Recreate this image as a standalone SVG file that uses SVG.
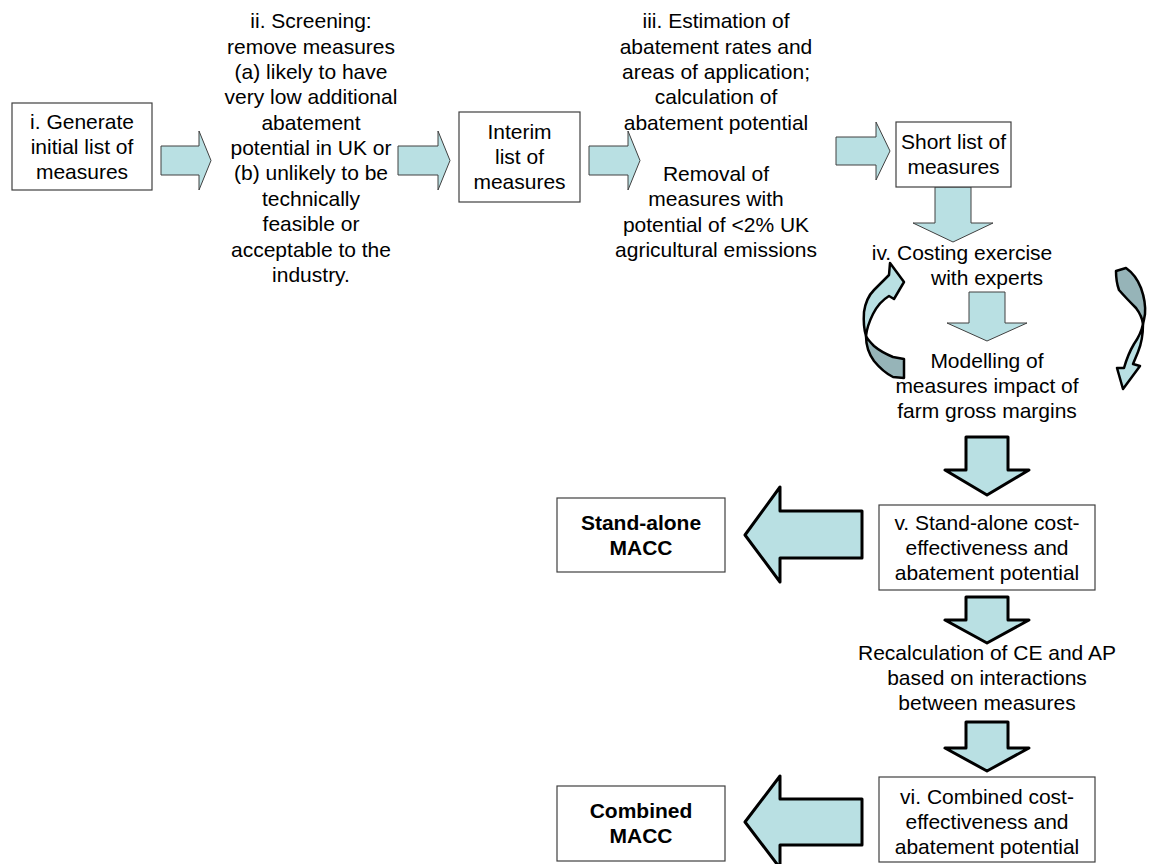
<svg xmlns="http://www.w3.org/2000/svg" width="1153" height="864" viewBox="0 0 1153 864">
<style>
text{font-family:"Liberation Sans",Arial,sans-serif;font-size:21px;fill:#000;text-anchor:middle}
.b{font-weight:bold}
.box{fill:#fff;stroke:#404040;stroke-width:1.2}
.arr{fill:#B9E0E3;stroke:#404040;stroke-width:1}
.tarr{fill:#B9E0E3;stroke:#000;stroke-width:3;stroke-linejoin:round}
.cl{fill:#B9E0E3;stroke:#000;stroke-width:2.5;stroke-linejoin:round}
.cd{fill:#96B4B8;stroke:#000;stroke-width:2.5;stroke-linejoin:round}
</style>
<g id="connectors">
<polygon class="arr" points="161,146 199,146 199,131 211,160.5 199,190 199,175 161,175"/>
<polygon class="arr" points="398,146 438,146 438,131 450,160.5 438,190 438,175 398,175"/>
<polygon class="arr" points="589,146 628,146 628,131 640,160.5 628,190 628,175 589,175"/>
<polygon class="arr" points="836,137 876,137 876,122 890,151 876,180 876,165 836,165"/>
<polygon class="arr" points="935,187 971,187 971,223 993,223 953,242 913,223 935,223"/>
<polygon class="arr" points="969,292 1005,292 1005,323 1027,323 987,341 947,323 969,323"/>
<polygon class="tarr" points="966,437 1008,437 1008,470 1029,470 987,495 945,470 966,470"/>
<polygon class="tarr" points="966,597 1008,597 1008,620 1029,620 987,643 945,620 966,620"/>
<polygon class="tarr" points="966,722 1008,722 1008,748 1029,748 987,771 945,748 966,748"/>
<polygon class="tarr" points="745,535 780,487 780,511 862,511 862,558 780,558 780,582"/>
<polygon class="tarr" points="745,822 780,776 780,799 862,799 862,845 780,845 780,868"/>
<g id="loop-left">
<path class="cd" d="M866,336 Q866,350 874,361 Q883,372 893,377 L904,378 L904,359 L893,357 Q881,352 874,346 Q868,340 866,336 Z"/>
<path class="cl" d="M890,263 L904,282 L894,299 L889,296 Q879,302 873,314 Q867,326 866,336 Q863,326 864,312 Q866,298 874,290 L889,275 Z"/>
</g>
<g id="loop-right">
<path class="cd" d="M1116,271 L1126,268 Q1136,275 1141,288 Q1146,302 1145,314 Q1144,320 1143,324 Q1142,316 1136,308 Q1126,298 1119,290 Q1116,282 1116,271 Z"/>
<path class="cl" d="M1143,324 Q1143,340 1138,352 L1133,364 L1140,366 L1123,389 L1117,368 L1124,368 Q1128,354 1134,344 Q1141,334 1143,324 Z"/>
</g>
</g>
<g id="node-i">
<rect class="box" x="12" y="103" width="140" height="87"/>
<text x="82" y="129">i. Generate</text>
<text x="82" y="154">initial list of</text>
<text x="82" y="179">measures</text>
</g>
<g id="node-ii">
<text x="311" y="28">ii. Screening:</text>
<text x="311" y="54">remove measures</text>
<text x="311" y="79">(a) likely to have</text>
<text x="311" y="104">very low additional</text>
<text x="311" y="130">abatement</text>
<text x="311" y="155">potential in UK or</text>
<text x="311" y="180">(b) unlikely to be</text>
<text x="311" y="206">technically</text>
<text x="311" y="231">feasible or</text>
<text x="311" y="257">acceptable to the</text>
<text x="311" y="282">industry.</text>
</g>
<g id="node-interim">
<rect class="box" x="459" y="112" width="121" height="90"/>
<text x="519.5" y="139">Interim</text>
<text x="519.5" y="164">list of</text>
<text x="519.5" y="189">measures</text>
</g>
<g id="node-iii">
<text x="716" y="28">iii. Estimation of</text>
<text x="716" y="54">abatement rates and</text>
<text x="716" y="79">areas of application;</text>
<text x="716" y="104">calculation of</text>
<text x="716" y="130">abatement potential</text>
<text x="716" y="181">Removal of</text>
<text x="716" y="206">measures with</text>
<text x="716" y="232">potential of &lt;2% UK</text>
<text x="716" y="257">agricultural emissions</text>
</g>
<g id="node-shortlist">
<rect class="box" x="896" y="122" width="115" height="65"/>
<text x="953.5" y="149">Short list of</text>
<text x="953.5" y="174">measures</text>
</g>
<g id="node-iv">
<text x="962" y="260">iv. Costing exercise</text>
<text x="987" y="285">with experts</text>
</g>
<g id="node-modelling">
<text x="987" y="368">Modelling of</text>
<text x="987" y="393">measures impact of</text>
<text x="987" y="418">farm gross margins</text>
</g>
<g id="node-v">
<rect class="box" x="879" y="505" width="216" height="85"/>
<text x="987" y="530">v. Stand-alone cost-</text>
<text x="987" y="555">effectiveness and</text>
<text x="987" y="580">abatement potential</text>
</g>
<g id="node-standalone">
<rect class="box" x="557" y="498" width="168" height="74"/>
<text class="b" x="641" y="530">Stand-alone</text>
<text class="b" x="641" y="555">MACC</text>
</g>
<g id="node-recalc">
<text x="987" y="660">Recalculation of CE and AP</text>
<text x="987" y="685">based on interactions</text>
<text x="987" y="710">between measures</text>
</g>
<g id="node-vi">
<rect class="box" x="879" y="777" width="216" height="85"/>
<text x="987" y="804">vi. Combined cost-</text>
<text x="987" y="829">effectiveness and</text>
<text x="987" y="854">abatement potential</text>
</g>
<g id="node-combined">
<rect class="box" x="557" y="786" width="168" height="75"/>
<text class="b" x="641" y="818">Combined</text>
<text class="b" x="641" y="843">MACC</text>
</g>
</svg>
